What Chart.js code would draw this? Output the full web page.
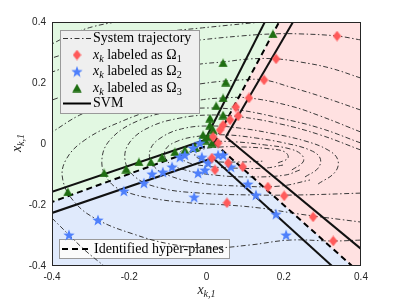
<!DOCTYPE html>
<html>
<head>
<meta charset="utf-8">
<script src="https://cdn.jsdelivr.net/npm/chart.js@4.4.0/dist/chart.umd.min.js"></script>
<style>
  html, body { margin: 0; padding: 0; background: #fff; }
  #wrap { width: 399px; height: 299px; }
</style>
</head>
<body>
<div id="wrap"><canvas id="chart" width="399" height="299"></canvas></div>
<script>
// axis ticks
const xTicks = [-0.4, -0.2, 0, 0.2, 0.4];
const yTicks = [-0.4, -0.2, 0, 0.2, 0.4];

// system trajectories as [x_{k,1}, x_{k,2}]
const trajectories = [
  [[-0.237, 0.400], [-0.296, 0.384], [-0.348, 0.361], [-0.400, 0.328]],
  [[0.144, 0.400], [0.061, 0.390], [-0.017, 0.380], [-0.094, 0.370], [-0.198, 0.351], [-0.302, 0.321], [-0.400, 0.282]],
  [[0.400, 0.341], [0.338, 0.354], [0.242, 0.361], [0.172, 0.361], [0.087, 0.354], [-0.017, 0.341], [-0.146, 0.321], [-0.276, 0.289], [-0.400, 0.236]],
  [[0.400, 0.216], [0.320, 0.249], [0.242, 0.269], [0.180, 0.279], [0.113, 0.279], [0.043, 0.269], [-0.017, 0.262], [-0.146, 0.236], [-0.276, 0.200], [-0.400, 0.144]],
  [[0.400, 0.111], [0.294, 0.157], [0.216, 0.187], [0.149, 0.210], [0.087, 0.210], [-0.017, 0.197], [-0.146, 0.167], [-0.250, 0.134], [-0.328, 0.095], [-0.400, 0.039]],
  [[0.400, 0.039], [0.294, 0.092], [0.216, 0.125], [0.110, 0.151], [0.043, 0.151], [-0.017, 0.144], [-0.120, 0.118], [-0.224, 0.072], [-0.315, 0.013], [-0.364, -0.052], [-0.372, -0.118], [-0.340, -0.193], [-0.281, -0.249], [-0.190, -0.295], [-0.094, -0.328], [0.009, -0.341], [0.113, -0.331], [0.216, -0.315], [0.328, -0.318], [0.400, -0.315]],
  [[0.400, 0.003], [0.294, 0.052], [0.190, 0.085], [0.087, 0.111], [0.009, 0.118], [-0.069, 0.111], [-0.172, 0.079], [-0.250, 0.013], [-0.271, -0.062], [-0.250, -0.125], [-0.214, -0.154], [-0.146, -0.177], [-0.043, -0.193], [0.053, -0.200], [0.139, -0.210], [0.242, -0.230], [0.400, -0.256]],
  [[0.400, -0.020], [0.294, 0.030], [0.190, 0.066], [0.087, 0.089], [0.009, 0.095], [-0.069, 0.085], [-0.146, 0.056], [-0.198, 0.007], [-0.211, -0.052], [-0.185, -0.108], [-0.120, -0.144], [-0.017, -0.161], [0.113, -0.167], [0.242, -0.167], [0.400, -0.161]],
  [[0.289, -0.131], [0.333, -0.092], [0.340, -0.052], [0.315, -0.020], [0.255, 0.010], [0.164, 0.036], [0.087, 0.052], [0.017, 0.059], [-0.056, 0.052], [-0.115, 0.023], [-0.146, -0.020], [-0.139, -0.069], [-0.094, -0.105], [-0.017, -0.128], [0.087, -0.138], [0.190, -0.138], [0.268, -0.118]],
  [[0.255, -0.108], [0.289, -0.079], [0.294, -0.046], [0.268, -0.020], [0.203, 0.003], [0.126, 0.020], [0.048, 0.030], [-0.017, 0.026], [-0.074, 0.010], [-0.107, -0.020], [-0.100, -0.059], [-0.056, -0.085], [0.022, -0.102], [0.113, -0.108], [0.203, -0.102], [0.242, -0.085]],
  [[0.221, -0.085], [0.250, -0.059], [0.247, -0.036], [0.216, -0.016], [0.151, -0.003], [0.074, 0.007], [0.009, 0.007], [-0.043, -0.007], [-0.069, -0.030], [-0.056, -0.056], [-0.004, -0.072], [0.074, -0.079], [0.151, -0.079], [0.198, -0.069]],
  [[0.185, -0.062], [0.211, -0.046], [0.203, -0.026], [0.164, -0.016], [0.100, -0.010], [0.035, -0.010], [-0.017, -0.020], [-0.030, -0.039], [0.009, -0.056], [0.087, -0.059], [0.151, -0.056]],
  [[-0.400, -0.243], [-0.356, -0.298], [-0.315, -0.348], [-0.265, -0.400]]
];

// samples x_k, by label
const omega1Points = [
  [0.338, 0.354], [0.180, 0.279], [0.149, 0.210], [0.110, 0.151], [0.076, 0.121], [0.082, 0.092],
  [0.061, 0.079], [0.043, 0.062], [0.035, 0.046], [0.017, 0.023], [0.030, 0.003], [0.014, -0.046],
  [0.022, -0.085], [0.056, -0.062], [0.094, -0.075], [0.159, -0.141], [0.201, -0.170], [0.053, -0.193],
  [0.276, -0.239], [0.328, -0.318]
];
const omega2Points = [
  [-0.356, -0.298], [-0.281, -0.249], [-0.214, -0.154], [-0.162, -0.128], [-0.141, -0.098], [-0.113, -0.092],
  [-0.089, -0.075], [-0.069, -0.043], [-0.056, -0.036], [-0.035, -0.013], [-0.017, 0.003], [-0.032, -0.174],
  [-0.012, -0.043], [-0.004, -0.085], [-0.022, -0.095], [0.004, -0.062], [0.030, -0.036], [0.043, -0.036],
  [0.063, -0.075], [0.107, -0.131], [0.128, -0.167], [0.180, -0.230], [0.206, -0.298]
];
const omega3Points = [
  [-0.359, -0.157], [-0.265, -0.095], [-0.208, -0.082], [-0.175, -0.059], [-0.144, -0.059], [-0.115, -0.043],
  [-0.082, -0.026], [-0.056, -0.020], [-0.030, -0.010], [-0.004, 0.013], [0.004, 0.023], [0.017, 0.046],
  [0.009, 0.062], [0.009, 0.085], [0.025, 0.125], [0.043, 0.151], [0.050, 0.203], [0.043, 0.266],
  [0.172, 0.361], [0.043, 0.095], [-0.009, 0.030], [0.014, 0.003]
];

// identified hyper-planes: common point and the far end of each ray
const hyperCenter = [0.020, 0.003];
const hyperEnds = [[0.188, 0.400], [-0.400, -0.190], [0.377, -0.400]];

// SVM lines, each as two end points
const svmLines = [
  [[0.151, 0.400], [-0.004, 0.013]],
  [[0.224, 0.400], [0.050, 0.023]],
  [[0.050, 0.023], [0.400, -0.344]],
  [[0.017, -0.046], [0.325, -0.400]],
  [[-0.400, -0.157], [-0.004, 0.013]],
  [[-0.400, -0.226], [0.017, -0.046]]
];

const regionColors = { omega1: '#ffe1e1', omega2: '#e0eafc', omega3: '#e2f8e2' };
const markerColors = { omega1: '#ff5a5a', omega2: '#4f80fb', omega3: '#1f6e12' };

const toXY = arr => arr.map(p => ({ x: p[0], y: p[1] }));
const fmt = v => (Math.abs(v) < 1e-9 ? '0' : String(+v.toFixed(1)));

// marker images
function makeMarker(w, h, color, pts) {
  const c = document.createElement('canvas');
  c.width = w; c.height = h;
  const g = c.getContext('2d');
  g.beginPath();
  pts.forEach((p, i) => (i ? g.lineTo(p[0], p[1]) : g.moveTo(p[0], p[1])));
  g.closePath();
  g.fillStyle = color;
  g.fill();
  return c;
}
const diamondImg = makeMarker(9, 11, markerColors.omega1, [[4.5, 0.3], [8.7, 5.5], [4.5, 10.7], [0.3, 5.5]]);
const triangleImg = makeMarker(10, 9, markerColors.omega3, [[5, 0.3], [9.7, 8.7], [0.3, 8.7]]);
const starPts = [];
for (let i = 0; i < 10; i++) {
  const a = -Math.PI / 2 + i * Math.PI / 5;
  const r = i % 2 ? 2.5 : 6;
  starPts.push([6 + r * Math.cos(a), 6.6 + r * Math.sin(a)]);
}
const starImg = makeMarker(12, 12, markerColors.omega2, starPts);

const SERIF = '"Liberation Serif", "DejaVu Serif", serif';

function richWidth(ctx, parts, size) {
  let w = 0;
  for (const p of parts) {
    const s = p.sub ? size * 0.72 : size;
    ctx.font = (p.it ? 'italic ' : '') + s + 'px ' + SERIF;
    w += ctx.measureText(p.t).width;
  }
  return w;
}
function richText(ctx, parts, x, y, size) {
  let cx = x;
  ctx.textBaseline = 'middle';
  ctx.textAlign = 'left';
  for (const p of parts) {
    const s = p.sub ? size * 0.72 : size;
    ctx.font = (p.it ? 'italic ' : '') + s + 'px ' + SERIF;
    ctx.fillText(p.t, cx, y + (p.sub ? size * 0.28 : 0));
    cx += ctx.measureText(p.t).width;
  }
}

const axisTitle = [{ t: 'x', it: true }, { t: 'k,1', it: true, sub: true }];
const legendRows = [
  { kind: 'dashdot', parts: [{ t: 'System trajectory' }] },
  { kind: 'img', img: diamondImg, parts: [{ t: 'x', it: true }, { t: 'k', it: true, sub: true }, { t: ' labeled as Ω' }, { t: '1', sub: true }] },
  { kind: 'img', img: starImg, parts: [{ t: 'x', it: true }, { t: 'k', it: true, sub: true }, { t: ' labeled as Ω' }, { t: '2', sub: true }] },
  { kind: 'img', img: triangleImg, parts: [{ t: 'x', it: true }, { t: 'k', it: true, sub: true }, { t: ' labeled as Ω' }, { t: '3', sub: true }] },
  { kind: 'solid', parts: [{ t: 'SVM' }] }
];
const legend2Parts = [{ t: 'Identified hyper-planes' }];

function sample(ctx, kind, x0, x1, y) {
  ctx.save();
  ctx.strokeStyle = kind === 'dashdot' ? '#333' : '#000';
  ctx.lineWidth = kind === 'dashdot' ? 1 : 2;
  ctx.setLineDash(kind === 'dashdot' ? [5, 2.5, 1.5, 2.5] : kind === 'dash' ? [6, 4] : []);
  ctx.beginPath(); ctx.moveTo(x0, y); ctx.lineTo(x1, y); ctx.stroke();
  ctx.restore();
}

const decorPlugin = {
  id: 'decor',
  beforeDatasetsDraw(chart) {
    const { ctx, chartArea: a, scales: { x, y } } = chart;
    const P = p => [x.getPixelForValue(p[0]), y.getPixelForValue(p[1])];
    const poly = (pts, color) => {
      ctx.beginPath();
      pts.map(P).forEach((q, i) => (i ? ctx.lineTo(q[0], q[1]) : ctx.moveTo(q[0], q[1])));
      ctx.closePath();
      ctx.fillStyle = color;
      ctx.fill();
    };
    ctx.save();
    ctx.beginPath(); ctx.rect(a.left, a.top, a.width, a.height); ctx.clip();
    ctx.fillStyle = regionColors.omega2;
    ctx.fillRect(a.left, a.top, a.width, a.height);
    poly([[-0.4, 0.4], hyperEnds[0], hyperCenter, hyperEnds[1]], regionColors.omega3);
    poly([hyperEnds[0], [0.4, 0.4], [0.4, -0.4], hyperEnds[2], hyperCenter], regionColors.omega1);
    // lower legend (under the trajectories)
    ctx.fillStyle = '#fbfbfb';
    ctx.fillRect(59.5, 239.5, 170, 19);
    ctx.strokeStyle = '#9a9a9a'; ctx.lineWidth = 1;
    ctx.strokeRect(59.5, 239.5, 170, 19);
    sample(ctx, 'dash', 62, 92, 249);
    ctx.fillStyle = '#000';
    richText(ctx, legend2Parts, 94, 249, 14);
    ctx.restore();
  },
  afterDatasetsDraw(chart) {
    const { ctx, chartArea: a } = chart;
    ctx.save();
    // upper legend
    ctx.fillStyle = '#efefef';
    ctx.fillRect(60.5, 30.5, 139, 83);
    ctx.strokeStyle = '#9a9a9a'; ctx.lineWidth = 1;
    ctx.strokeRect(60.5, 30.5, 139, 83);
    const rowsY = [38.5, 55, 71.5, 88, 103.5];
    legendRows.forEach((r, i) => {
      const yy = rowsY[i];
      if (r.kind === 'img') ctx.drawImage(r.img, 77 - r.img.width / 2, yy - r.img.height / 2);
      else sample(ctx, r.kind, 63, 91, yy);
      ctx.fillStyle = '#000';
      richText(ctx, r.parts, 93, yy, 14);
    });
    // frame
    ctx.strokeStyle = '#262626';
    ctx.lineWidth = 1;
    ctx.strokeRect(a.left + 0.5, a.top + 0.5, a.width - 1, a.height - 1);
    ctx.restore();
  },
  afterDraw(chart) {
    const { ctx, chartArea: a } = chart;
    ctx.save();
    ctx.fillStyle = '#262626';
    const w = richWidth(ctx, axisTitle, 14);
    richText(ctx, axisTitle, (a.left + a.right) / 2 - w / 2, 290, 14);
    ctx.translate(17, (a.top + a.bottom) / 2 - 1);
    ctx.rotate(-Math.PI / 2);
    richText(ctx, axisTitle, -w / 2, 0, 14);
    ctx.restore();
  }
};

const datasets = [];
datasets.push({ data: toXY(omega1Points), pointStyle: diamondImg, pointRadius: 5, order: 0 });
datasets.push({ data: toXY(omega2Points), pointStyle: starImg, pointRadius: 5, order: 0 });
datasets.push({ data: toXY(omega3Points), pointStyle: triangleImg, pointRadius: 5, order: 0 });
hyperEnds.forEach(e => datasets.push({
  data: toXY([hyperCenter, e]), showLine: true, pointRadius: 0,
  borderColor: '#000', borderWidth: 2, borderDash: [6, 4], order: 1
}));
svmLines.forEach(l => datasets.push({
  data: toXY(l), showLine: true, pointRadius: 0, borderColor: '#111', borderWidth: 2, order: 1
}));
trajectories.forEach(t => datasets.push({
  data: toXY(t), showLine: true, pointRadius: 0, tension: 0.4,
  borderColor: '#3a3a3a', borderWidth: 1, borderDash: [5, 2.5, 1.5, 2.5], order: 2
}));

const tickFont = { family: '"Liberation Sans", Arial, sans-serif', size: 10 };

new Chart(document.getElementById('chart').getContext('2d'), {
  type: 'scatter',
  data: { datasets },
  plugins: [decorPlugin],
  options: {
    responsive: false,
    animation: false,
    events: [],
    layout: { padding: { top: 22, right: 38, left: 0, bottom: 0 } },
    plugins: { legend: { display: false }, tooltip: { enabled: false } },
    scales: {
      x: {
        type: 'linear', min: -0.4, max: 0.4,
        grid: { display: false, drawTicks: false }, border: { display: false },
        afterBuildTicks: s => { s.ticks = xTicks.map(v => ({ value: v })); },
        afterFit: s => { s.height = 33; },
        ticks: { padding: 5, color: '#262626', font: tickFont, maxRotation: 0, callback: v => fmt(v) }
      },
      y: {
        type: 'linear', min: -0.4, max: 0.4,
        grid: { display: false, drawTicks: false }, border: { display: false },
        afterBuildTicks: s => { s.ticks = yTicks.map(v => ({ value: v })); },
        afterFit: s => { s.width = 52; },
        ticks: { padding: 6, color: '#262626', font: tickFont, callback: v => fmt(v) }
      }
    }
  }
});
</script>
</body>
</html>
